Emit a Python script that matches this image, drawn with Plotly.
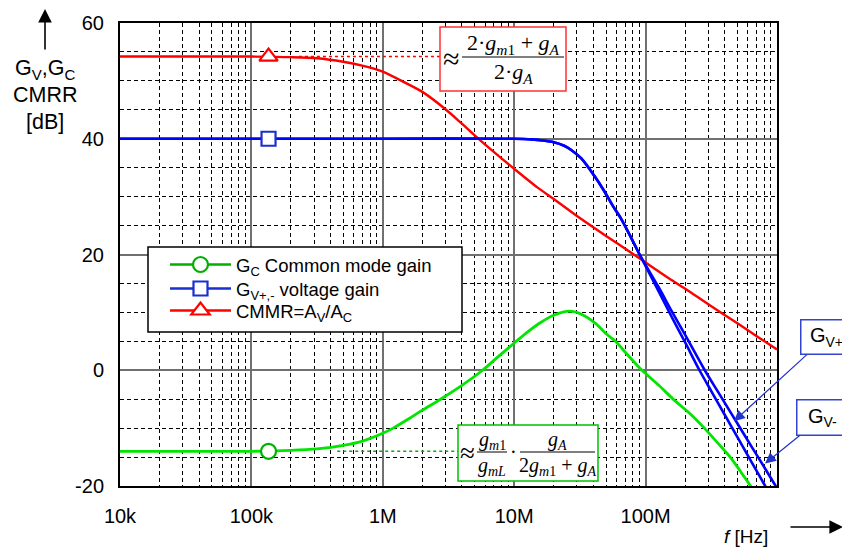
import plotly.graph_objects as go

# ---------------- data ----------------
x_tick_vals = [1e4, 1e5, 1e6, 1e7, 1e8]
x_tick_text = ["10k", "100k", "1M", "10M", "100M"]
y_tick_vals = [60, 40, 20, 0, -20]
y_tick_text = ["60", "40", "20", "0", "-20"]

cmmr_freq = [1e4, 3.16e4, 1e5, 2e5, 3.16e5, 5e5, 7.1e5, 1e6, 1.5e6, 2e6, 3e6, 4e6, 5e6, 7.1e6,
             1e7, 1.5e7, 2e7, 3.16e7, 5e7, 7.1e7, 1e8, 1.5e8, 2e8, 3e8, 5e8, 7.1e8, 1e9]
cmmr_db = [54.2, 54.2, 54.2, 54.1, 53.9, 53.3, 52.6, 51.6, 49.6, 48.1, 45.1, 42.6, 40.6, 37.6,
           34.8, 31.6, 29.6, 26.3, 23.2, 20.9, 18.6, 15.9, 14.1, 11.4, 8.1, 5.8, 3.6]

gc_freq = [1e4, 3.16e4, 1e5, 2e5, 3.16e5, 5e5, 7.1e5, 1e6, 1.2e6, 1.6e6, 2e6, 2.75e6, 4e6,
           5.75e6, 7.6e6, 1e7, 1.26e7, 1.6e7, 2e7, 2.65e7, 3.3e7, 4.2e7, 5e7, 5.9e7, 7.2e7,
           9.1e7, 1.26e8, 1.66e8, 2.2e8, 2.8e8, 3.55e8, 4.4e8, 5.25e8, 6.3e8, 7.1e8]
gc_db = [-14.0, -14.0, -14.0, -13.85, -13.6, -13.0, -12.2, -10.9, -10.0, -8.3, -6.9, -5.0, -2.6,
         0.0, 2.4, 4.7, 6.6, 8.3, 9.5, 10.2, 9.6, 8.0, 6.3, 5.0, 2.8,
         0.3, -2.6, -5.2, -7.6, -10.0, -12.6, -15.0, -17.4, -20.0, -21.5]

gv_minus_freq = [1e4, 1e5, 1e6, 1e7, 1.35e7, 1.66e7, 2e7, 2.4e7, 2.7e7, 3.24e7, 4.07e7, 4.8e7,
                 5.6e7, 6.5e7, 7.6e7, 9.0e7, 1.26e8, 1.58e8, 2e8, 2.57e8, 3.16e8, 3.98e8,
                 5.01e8, 6.31e8, 8.13e8, 8.91e8]
gv_minus_db = [40, 40, 40, 40, 39.9, 39.7, 39.4, 38.8, 38.1, 36.6, 33.6, 31.1,
               28.5, 26.2, 23.3, 20.0, 13.6, 9.2, 4.8, 0.0, -3.6, -7.6,
               -11.6, -15.6, -20.0, -21.6]

gv_plus_freq = [1e4, 1e5, 1e6, 1e7, 1.35e7, 1.66e7, 2e7, 2.4e7, 2.7e7, 3.24e7, 4.07e7, 4.8e7,
                5.6e7, 6.5e7, 7.6e7, 9.0e7, 1.26e8, 1.58e8, 2e8, 2.82e8, 3.55e8, 4.47e8,
                5.62e8, 7.08e8, 9.77e8, 1e9]
gv_plus_db = [40, 40, 40, 40, 39.9, 39.7, 39.4, 38.8, 38.1, 36.6, 33.6, 31.1,
              28.5, 26.2, 23.3, 20.0, 14.3, 10.2, 6.1, 0.0, -3.7, -7.4,
              -11.1, -14.8, -20.0, -20.4]

marker_freq = 1.35e5
marker_cmmr_db = 54.2
marker_gv_db = 40.0
marker_gc_db = -14.0

legend_names = ["G<sub>C</sub> Common mode gain",
                "G<sub>V+,-</sub> voltage gain",
                "CMMR=A<sub>V</sub>/A<sub>C</sub>"]

y_title_lines = ["G<sub>V</sub>,G<sub>C</sub>", "CMRR", "[dB]"]

# asymptote connector lines (from curve to formula box)
cmmr_dot_freq = [2.3e5, 2.75e6]
gc_dot_freq = [4.5e5, 3.75e6]

# ---------------- layout helpers ----------------
OFF = 8                      # page body margin of the html page
W, H = 850 - OFF, 547 - OFF  # figure size
PL, PR, PT, PB = 120, 777, 23, 486   # plot area in window pixels
L, T = PL - OFF, PT - OFF
R = W - (PR - OFF)
B = H - (PB - OFF)
PW, PH = PR - PL, PB - PT


def px(x):
    return (x - PL) / PW


def py(y):
    return (PB - y) / PH


RED = "#ff0000"
BLUE = "#0000ff"
GREEN = "#00e600"
GREEN_DARK = "#00b000"
SANS = "Liberation Sans, Arial, sans-serif"
SERIF = "Liberation Serif, Times New Roman, serif"

fig = go.Figure()

# curves
fig.add_trace(go.Scatter(x=gc_freq, y=gc_db, mode="lines", showlegend=False,
                         line=dict(color=GREEN, width=2.8, shape="spline", smoothing=0.8),
                         hoverinfo="skip"))
fig.add_trace(go.Scatter(x=cmmr_freq, y=cmmr_db, mode="lines", showlegend=False,
                         line=dict(color=RED, width=2.4, shape="spline", smoothing=0.8),
                         hoverinfo="skip"))
fig.add_trace(go.Scatter(x=gv_minus_freq, y=gv_minus_db, mode="lines", showlegend=False,
                         line=dict(color=BLUE, width=2.6, shape="spline", smoothing=0.8),
                         hoverinfo="skip"))
fig.add_trace(go.Scatter(x=gv_plus_freq, y=gv_plus_db, mode="lines", showlegend=False,
                         line=dict(color=BLUE, width=2.6, shape="spline", smoothing=0.8),
                         hoverinfo="skip"))

# dotted asymptote connectors
fig.add_trace(go.Scatter(x=cmmr_dot_freq, y=[marker_cmmr_db] * 2, mode="lines", showlegend=False,
                         line=dict(color=RED, width=1.5, dash="dot"), hoverinfo="skip"))
fig.add_trace(go.Scatter(x=gc_dot_freq, y=[marker_gc_db] * 2, mode="lines", showlegend=False,
                         line=dict(color=GREEN_DARK, width=1.5, dash="dot"), hoverinfo="skip"))

# markers (also legend entries, each in its own legend row)
fig.add_trace(go.Scatter(x=[marker_freq], y=[marker_gc_db], mode="lines+markers", name=legend_names[0],
                         legend="legend",
                         line=dict(color=GREEN_DARK, width=2.5),
                         marker=dict(symbol="circle", size=15, color="white",
                                     line=dict(color=GREEN_DARK, width=2.2))))
fig.add_trace(go.Scatter(x=[marker_freq], y=[marker_gv_db], mode="lines+markers", name=legend_names[1],
                         legend="legend2",
                         line=dict(color="#1a2fd0", width=2.5),
                         marker=dict(symbol="square", size=14, color="white",
                                     line=dict(color="#1a2fd0", width=2.2))))
fig.add_trace(go.Scatter(x=[marker_freq], y=[marker_cmmr_db], mode="lines+markers", name=legend_names[2],
                         legend="legend3",
                         line=dict(color=RED, width=2.5),
                         marker=dict(symbol="triangle-up", size=16, color="white",
                                     line=dict(color=RED, width=2.2))))

minor_x = [m * 10 ** d for d in range(4, 9) for m in range(2, 10)]
minor_y = [v for v in range(-20, 61, 5) if v % 20 != 0]

fig.update_xaxes(type="log", range=[4, 9], tickmode="array", tickvals=x_tick_vals, ticktext=x_tick_text,
                 showgrid=True, gridcolor="#707070", gridwidth=1.5, zeroline=False,
                 minor=dict(tickmode="array", tickvals=minor_x, showgrid=True, gridcolor="black",
                            griddash="4px,3px", gridwidth=1, ticks=""),
                 showline=True, linecolor="black", linewidth=2, mirror=True, ticks="",
                 tickfont=dict(family=SANS, size=20, color="black"), ticklabelstandoff=11)
fig.update_yaxes(range=[-20, 60], tickmode="array", tickvals=y_tick_vals, ticktext=y_tick_text,
                 showgrid=True, gridcolor="#707070", gridwidth=1.5, zeroline=False,
                 minor=dict(tickmode="array", tickvals=minor_y, showgrid=True, gridcolor="black",
                            griddash="4px,3px", gridwidth=1, ticks=""),
                 showline=True, linecolor="black", linewidth=2, mirror=True, ticks="",
                 tickfont=dict(family=SANS, size=20, color="black"), ticklabelstandoff=10)

shapes = []
# legend frame
shapes.append(dict(type="rect", xref="paper", yref="paper", x0=px(148), x1=px(462), y0=py(332), y1=py(247),
                   fillcolor="white", line=dict(color="black", width=1.5), layer="above"))
# CMMR formula box
shapes.append(dict(type="rect", xref="paper", yref="paper", x0=px(440), x1=px(566), y0=py(91), y1=py(27),
                   fillcolor="white", line=dict(color="#ff3030", width=1.5), layer="above"))
shapes.append(dict(type="line", xref="paper", yref="paper", x0=px(462), x1=px(564), y0=py(57), y1=py(57),
                   line=dict(color="black", width=1), layer="above"))
# Gc formula box
shapes.append(dict(type="rect", xref="paper", yref="paper", x0=px(458), x1=px(598), y0=py(481), y1=py(425),
                   fillcolor="white", line=dict(color="#00c000", width=1.5), layer="above"))
shapes.append(dict(type="line", xref="paper", yref="paper", x0=px(477), x1=px(507), y0=py(452), y1=py(452),
                   line=dict(color="black", width=1), layer="above"))
shapes.append(dict(type="line", xref="paper", yref="paper", x0=px(520), x1=px(595), y0=py(452), y1=py(452),
                   line=dict(color="black", width=1), layer="above"))

ann = []


def text_at(x, y, text, size, family=SERIF, xanchor="center", yanchor="middle"):
    ann.append(dict(xref="paper", yref="paper", x=px(x), y=py(y), text=text, showarrow=False,
                    xanchor=xanchor, yanchor=yanchor, font=dict(family=family, size=size, color="black")))


# CMMR formula
text_at(451, 58, "≈", 30)
text_at(513, 44, "2·<i>g</i><sub><i>m</i>1</sub> + <i>g</i><sub><i>A</i></sub>", 22)
text_at(513, 73, "2·<i>g</i><sub><i>A</i></sub>", 22)
# Gc formula
text_at(467, 453, "≈", 27)
text_at(492, 440, "<i>g</i><sub><i>m</i>1</sub>", 20)
text_at(492, 466, "<i>g</i><sub><i>mL</i></sub>", 20)
text_at(513, 452, "·", 20)
text_at(557, 440, "<i>g</i><sub><i>A</i></sub>", 20)
text_at(557, 466, "2<i>g</i><sub><i>m</i>1</sub> + <i>g</i><sub><i>A</i></sub>", 20)

# axis titles
for line_text, line_y in zip(y_title_lines, [69, 95, 122]):
    text_at(45, line_y, line_text, 21.5, family=SANS)
text_at(746, 536, "<i>f</i> [Hz]", 19, family=SANS)

# axis arrows
ann.append(dict(xref="paper", yref="paper", x=px(45), y=py(7), ax=0, ay=44, text="", showarrow=True,
                arrowhead=2, arrowsize=1.7, arrowwidth=1.6, arrowcolor="black"))
ann.append(dict(xref="paper", yref="paper", x=px(843), y=py(527), ax=-54, ay=0, text="", showarrow=True,
                arrowhead=2, arrowsize=1.7, arrowwidth=1.6, arrowcolor="black"))

# Gv+ / Gv- callouts
ann.append(dict(x=8.673, y=-8.8, xref="x", yref="y", ax=92, ay=-84, axref="pixel", ayref="pixel",
                text="G<sub>V+</sub>", showarrow=True, arrowhead=2, arrowsize=1.8, arrowwidth=1.2,
                arrowcolor="#2233cc", font=dict(family=SANS, size=20, color="black"),
                bordercolor="#3344cc", borderwidth=1.5, borderpad=3, bgcolor="white", width=44, height=27))
ann.append(dict(x=8.909, y=-16.1, xref="x", yref="y", ax=57, ay=-46, axref="pixel", ayref="pixel",
                text="G<sub>V-</sub>", showarrow=True, arrowhead=2, arrowsize=1.8, arrowwidth=1.2,
                arrowcolor="#2233cc", font=dict(family=SANS, size=20, color="black"),
                bordercolor="#3344cc", borderwidth=1.5, borderpad=3, bgcolor="white", width=44, height=28))

legend_rows = [265, 289, 311]
leg_common = dict(x=px(165), xanchor="left", yanchor="middle", bgcolor="rgba(0,0,0,0)",
                  borderwidth=0, itemwidth=61, font=dict(family=SANS, size=18.5, color="black"))

fig.update_layout(
    width=W, height=H, margin=dict(l=L, r=R, t=T, b=B, autoexpand=False),
    paper_bgcolor="white", plot_bgcolor="white",
    font=dict(family=SANS, size=19, color="black"),
    shapes=shapes, annotations=ann,
    showlegend=True,
    legend=dict(y=py(legend_rows[0]), **leg_common),
    legend2=dict(y=py(legend_rows[1]), **leg_common),
    legend3=dict(y=py(legend_rows[2]), **leg_common),
)

fig.write_html("out.html")
